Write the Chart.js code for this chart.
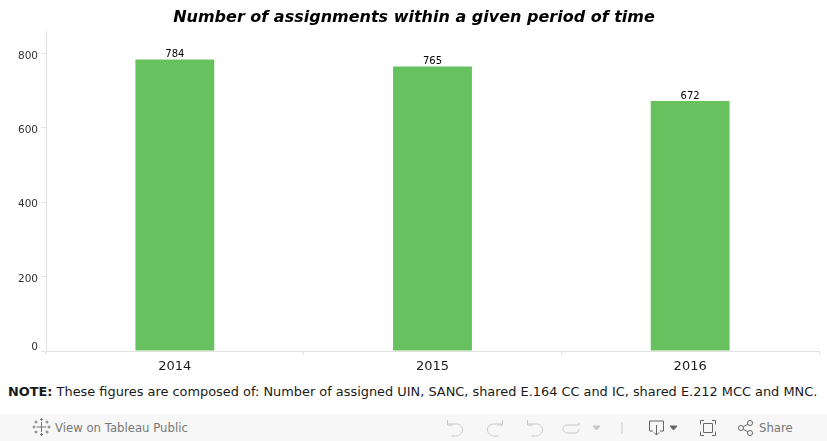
<!DOCTYPE html>
<html>
<head>
<meta charset="utf-8">
<script src="https://cdn.jsdelivr.net/npm/chart.js@4"></script>
<style>
  html, body { margin: 0; padding: 0; background: #fff; font-family: "DejaVu Sans", sans-serif; }
  #wrap { position: relative; width: 827px; height: 441px; overflow: hidden; }
  #box { position: absolute; left: 0; top: 0; width: 827px; height: 380px; }
  #note { position: absolute; left: 8px; top: 384px; font-size: 12.9px; color: #1a1a1a; white-space: nowrap; }
  #bar { position: absolute; left: 0; top: 414px; width: 827px; height: 27px; background: #f7f7f7; }
  #bar span { position: absolute; top: 7px; font: 11.7px "DejaVu Sans", sans-serif; color: #777; white-space: nowrap; }
  #bar svg { position: absolute; left: 0; top: 0; }
</style>
</head>
<body>
<div id="wrap">
  <div id="box"><canvas id="chart"></canvas></div>
  <div id="note"><b>NOTE:</b> These figures are composed of: Number of assigned UIN, SANC, shared E.164 CC and IC, shared E.212 MCC and MNC.</div>
  <div id="bar">
    <svg width="827" height="27" fill="none" stroke-width="1">
      <g stroke="#777">
        <path d="M41.500 8v10M36.500 13h10M41.500 4v3M40 5.500h3M41.500 19v3M40 20.500h3M34 11.500v3M32.500 13h3M49 11.500v3M47.500 13h3M36 6.500v3M34.500 8h3M47 6.500v3M45.500 8h3M36 16.500v3M34.500 18h3M47 16.500v3M45.500 18h3"/>
      </g>
      <g stroke="#c8c8c8">
        <path d="M447.500 6v5h5M447.500 10h9c4 0 6 3 6 6s-3 6-6 6h-5"/>
        <path d="M502.500 6v5h-5M502.500 10h-9c-4 0-6 3-6 6s3 6 6 6h5"/>
        <path d="M527.500 6v5h5M527.500 10h9c4 0 6 3 6 6s-3 6-6 6h-5"/>
        <path d="M579 9v2h-12c-3 0-4 2-4 4s2 4 4 4h8c3 0 4-2 4-4"/>
        <path d="M593 12h7l-3.500 4z" fill="#c8c8c8"/>
        <path d="M622 8v12"/>
      </g>
      <g stroke="#666">
        <path d="M653 17h-3.500v-10h14v10h-3.500M656.500 11v10M654 18.500l2.500 2.500 2.500-2.500"/>
        <path d="M670 12h7l-3.500 4z" fill="#666"/>
        <path d="M704 6.500h-3.500v4M712 6.500h3.500v4M704 21.500h-3.500v-4M712 21.500h3.500v-4M703.500 9.500h9v9h-9z"/>
        <circle cx="741" cy="14" r="2.500"/><circle cx="750" cy="9" r="2.500"/><circle cx="750" cy="19" r="2.500"/>
        <path d="M743.200 12.800l4.600-2.600M743.200 15.200l4.600 2.600"/>
      </g>
    </svg>
    <span style="left:55px">View on Tableau Public</span>
    <span style="left:759px">Share</span>
  </div>
</div>
<script>
const title = 'Number of assignments within a given period of time';
const years = ['2014', '2015', '2016'];
const assignments = [784, 765, 672];
const yTicks = [0, 200, 400, 600, 800];

// value labels on top of the bars
const barLabels = {
  id: 'barLabels',
  afterDatasetsDraw(chart) {
    const ctx = chart.ctx;
    ctx.save();
    ctx.font = '10px "DejaVu Sans"';
    ctx.fillStyle = '#000';
    ctx.textAlign = 'center';
    ctx.textBaseline = 'bottom';
    chart.getDatasetMeta(0).data.forEach((bar, i) => {
      ctx.fillText(assignments[i], bar.x, bar.y);
    });
    ctx.restore();
  }
};

new Chart('chart', {
  type: 'bar',
  data: {
    labels: years,
    datasets: [{
      data: assignments,
      backgroundColor: '#67c15e',
      categoryPercentage: 1,
      barPercentage: 0.306
    }]
  },
  options: {
    responsive: true,
    maintainAspectRatio: false,
    animation: false,
    // near equal side padding keeps the title centred on the page
    layout: { padding: { left: 9, right: 8 } },
    plugins: {
      legend: { display: false },
      tooltip: { enabled: false },
      title: {
        display: true,
        text: title,
        color: '#000',
        font: { family: '"DejaVu Sans"', size: 16, style: 'italic', weight: 'bold' },
        padding: { top: 8, bottom: 4 }
      }
    },
    scales: {
      x: {
        afterFit(scale) { scale.height = 29; },
        border: { color: '#e2e2e2' },
        grid: { offset: true, drawOnChartArea: false, color: '#e2e2e2', tickLength: 4 },
        ticks: { color: '#1a1a1a', font: { family: '"DejaVu Sans"', size: 13 }, padding: 4, maxRotation: 0 }
      },
      y: {
        min: 0,
        max: 860,
        afterFit(scale) { scale.width = 37; },
        afterBuildTicks(scale) { scale.ticks = yTicks.map(v => ({ value: v })); },
        border: { color: '#e2e2e2' },
        grid: { drawOnChartArea: false, color: '#e2e2e2', tickLength: 5 },
        ticks: {
          color: '#333',
          font: { family: '"DejaVu Sans"', size: 10.5 },
          padding: 3,
          labelOffset: 2.5,
          // the blank second line lifts the 0 clear of the axis
          callback: v => v === 0 ? ['0', ''] : String(v)
        }
      }
    }
  },
  plugins: [barLabels]
});
</script>
</body>
</html>
